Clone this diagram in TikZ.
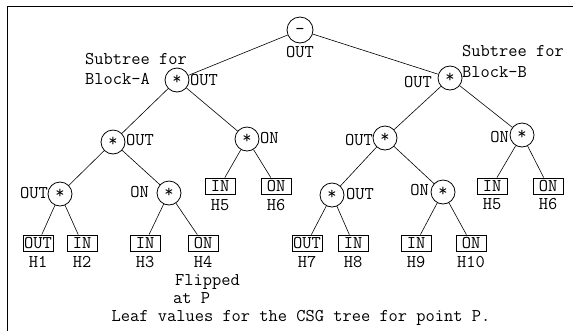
\documentclass[tikz,border=0pt]{standalone}
\usepackage{fontspec}
\usepackage{tikz}
\usetikzlibrary{positioning}
\tikzset{
    x=1bp,
    y=-1bp,
    every node/.style = {
        font=\ttfamily\fontsize{18}{20}\selectfont
    },
    op/.style = {
        draw,
        shape=circle,
        minimum size=24bp,
        inner sep=0pt,
        text height=1em,
        text depth=0pt,
        line width=0.8pt
    },
    rootop/.style = {
        op,
        minimum size=26bp
    },
    leaf/.style = {
        draw,
        shape=rectangle,
        minimum height=16bp,
        minimum width=30bp,
        inner sep=1bp,
        line width=0.8pt
    },
    val/.style = {
        inner sep=0pt
    },
    edge/.style = {
        line width=0.6pt
    },
}

\begin{document}
\begin{tikzpicture}
                \useasboundingbox (0,0) rectangle (573,331);
                \path[draw, line width=0.8pt] (7,331) |- (573,6);

                % operator nodes
                \node[rootop] (root) at (300,30) {-};
                \node[op] (a) at (177,80) {*};
                \node[op] (b) at (450,78) {*};
                \node[op] (al) at (113,142) {*};
                \node[op] (ar) at (247,139) {*};
                \node[op] (bl) at (385,138) {*};
                \node[op] (br) at (522,135) {*};
                \node[op] (all) at (60,194) {*};
                \node[op] (alr) at (169,193) {*};
                \node[op] (bll) at (332,195) {*};
                \node[op] (blr) at (443,192) {*};

                % leaves
                \node[leaf] (h1) at (38,243) {OUT};
                \node[leaf] (h2) at (82,243) {IN};
                \node[leaf] (h3) at (145,243) {IN};
                \node[leaf] (h4) at (203,243) {ON};
                \node[leaf] (h5a) at (220,186) {IN};
                \node[leaf] (h6a) at (276,186) {ON};
                \node[leaf] (h7) at (307,243) {OUT};
                \node[leaf] (h8) at (353,243) {IN};
                \node[leaf] (h9) at (416,243) {IN};
                \node[leaf] (h10) at (471,243) {ON};
                \node[leaf] (h5b) at (492,186) {IN};
                \node[leaf] (h6b) at (548,186) {ON};

                \node[val] (nh1) at (38,262) {H1};
                \node[val] (nh2) at (82,262) {H2};
                \node[val] (nh3) at (145,262) {H3};
                \node[val] (nh4) at (203,262) {H4};
                \node[val] (nh5a) at (220,205) {H5};
                \node[val] (nh6a) at (276,205) {H6};
                \node[val] (nh7) at (307,262) {H7};
                \node[val] (nh8) at (353,262) {H8};
                \node[val] (nh9) at (416,262) {H9};
                \node[val] (nh10) at (471,262) {H10};
                \node[val] (nh5b) at (492,204) {H5};
                \node[val] (nh6b) at (548,204) {H6};

                % values at the operators
                \node[val] (vroot) at (300,52) {OUT};
                \node[val, anchor=west] (va) at (190,80) {OUT};
                \node[val, anchor=east] (vb) at (432,82) {OUT};
                \node[val, anchor=west] (val) at (126,140) {OUT};
                \node[val, anchor=west] (var) at (260,138) {ON};
                \node[val, anchor=east] (vbl) at (373,140) {OUT};
                \node[val, anchor=east] (vbr) at (509,137) {ON};
                \node[val, anchor=east] (vall) at (48,193) {OUT};
                \node[val, anchor=east] (valr) at (149,192) {ON};
                \node[val, anchor=west] (vbll) at (346,194) {OUT};
                \node[val, anchor=east] (vblr) at (429,190) {ON};

                \node[val, anchor=west] (sta1) at (85,59) {Subtree for};
                \node[val, anchor=west] (sta2) at (85,79) {Block-A};
                \node[val, anchor=west] (stb1) at (462,51) {Subtree for};
                \node[val, anchor=west] (stb2) at (462,72) {Block-B};
                \node[val, anchor=west] (flip1) at (175,282) {Flipped};
                \node[val, anchor=west] (flip2) at (173,298) {at P};
                \node[val] (caption) at (301,318) {Leaf values for the CSG tree for point P.};

                \path[draw, edge] (root) -- (a);
                \path[draw, edge] (root) -- (b);
                \path[draw, edge] (a) -- (al);
                \path[draw, edge] (a) -- (ar);
                \path[draw, edge] (b) -- (bl);
                \path[draw, edge] (b) -- (br);
                \path[draw, edge] (al) -- (all);
                \path[draw, edge] (al) -- (alr);
                \path[draw, edge] (ar) -- (h5a);
                \path[draw, edge] (ar) -- (h6a);
                \path[draw, edge] (bl) -- (bll);
                \path[draw, edge] (bl) -- (blr);
                \path[draw, edge] (br) -- (h5b);
                \path[draw, edge] (br) -- (h6b);
                \path[draw, edge] (all) -- (h1);
                \path[draw, edge] (all) -- (h2);
                \path[draw, edge] (alr) -- (h3);
                \path[draw, edge] (alr) -- (h4);
                \path[draw, edge] (bll) -- (h7);
                \path[draw, edge] (bll) -- (h8);
                \path[draw, edge] (blr) -- (h9);
                \path[draw, edge] (blr) -- (h10);
\end{tikzpicture}
\end{document}
